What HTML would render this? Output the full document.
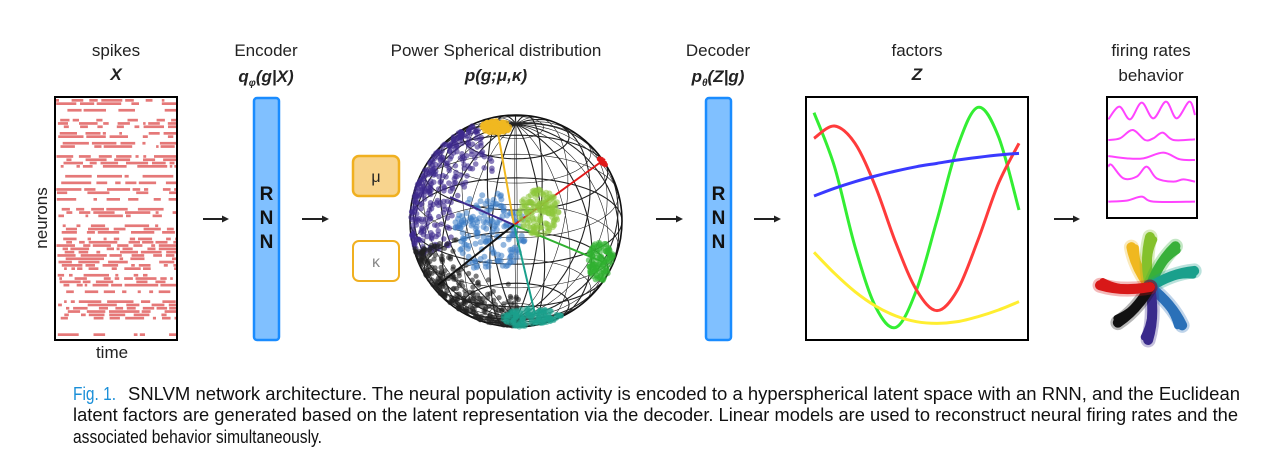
<!DOCTYPE html>
<html><head><meta charset="utf-8">
<style>
html,body{margin:0;padding:0;background:#fff;}
body{width:1268px;height:466px;overflow:hidden;font-family:"Liberation Sans",Arial,sans-serif;}
svg{position:absolute;left:0;top:0;}
</style></head><body>
<svg id="fig" width="1268" height="466" viewBox="0 0 1268 466">
 <g font-family="Liberation Sans, Arial, sans-serif" font-size="17" fill="#222" text-anchor="middle">
  <text x="116" y="56">spikes</text>
  <text x="116" y="80" font-weight="bold" font-style="italic">X</text>
  <text x="266" y="56">Encoder</text>
  <text x="266" y="82" font-weight="bold" font-style="italic">q<tspan font-size="10" dy="4">φ</tspan><tspan dy="-4">(g|X)</tspan></text>
  <text x="496" y="56">Power Spherical distribution</text>
  <text x="496" y="81" font-weight="bold" font-style="italic">p(g;μ,κ)</text>
  <text x="718" y="56">Decoder</text>
  <text x="718" y="82" font-weight="bold" font-style="italic">p<tspan font-size="10" dy="4">θ</tspan><tspan dy="-4">(Z|g)</tspan></text>
  <text x="917" y="56">factors</text>
  <text x="917" y="80" font-weight="bold" font-style="italic">Z</text>
  <text x="1151" y="56">firing rates</text>
  <text x="1151" y="81">behavior</text>
  <text x="112" y="358">time</text>
  <text transform="translate(47,218) rotate(-90)">neurons</text>
 </g>
 <g id="raster"></g>
 <rect x="55" y="97" width="122" height="243" fill="none" stroke="#000" stroke-width="2"/>
 <g id="arrows" stroke="#222" stroke-width="2" fill="#222"></g>
 <g>
  <rect x="254" y="98" width="25" height="242" rx="3" fill="#80c0ff" stroke="#1a8cff" stroke-width="2.5"/>
  <text x="266.5" y="200" font-size="19" font-weight="bold" text-anchor="middle" fill="#111">R</text>
  <text x="266.5" y="224" font-size="19" font-weight="bold" text-anchor="middle" fill="#111">N</text>
  <text x="266.5" y="248" font-size="19" font-weight="bold" text-anchor="middle" fill="#111">N</text>
 </g>
 <g>
  <rect x="706" y="98" width="25" height="242" rx="3" fill="#80c0ff" stroke="#1a8cff" stroke-width="2.5"/>
  <text x="718.5" y="200" font-size="19" font-weight="bold" text-anchor="middle" fill="#111">R</text>
  <text x="718.5" y="224" font-size="19" font-weight="bold" text-anchor="middle" fill="#111">N</text>
  <text x="718.5" y="248" font-size="19" font-weight="bold" text-anchor="middle" fill="#111">N</text>
 </g>
 <g>
  <rect x="353" y="156" width="46" height="40" rx="6" fill="#f8d48e" stroke="#f0b020" stroke-width="2.5"/>
  <text x="376" y="182" font-size="16" text-anchor="middle" fill="#222">μ</text>
 </g>
 <g>
  <rect x="353" y="241" width="46" height="40" rx="6" fill="#fff" stroke="#f0b020" stroke-width="2"/>
  <text x="376" y="267" font-size="16" text-anchor="middle" fill="#888">κ</text>
 </g>
 <g id="sphere"></g>
 <g id="factors"></g>
 <rect x="806" y="97" width="222" height="243" fill="none" stroke="#000" stroke-width="2"/>
 <g id="rates"></g>
 <rect x="1107" y="97" width="90" height="121" fill="none" stroke="#000" stroke-width="2"/>
 <g id="star"></g>
 <g font-family="Liberation Sans, Arial, sans-serif" font-size="18" fill="#111">
  <text x="73" y="400" fill="#1a8fd8" textLength="43" lengthAdjust="spacingAndGlyphs">Fig. 1.</text>
  <text x="128" y="400" textLength="1112" lengthAdjust="spacingAndGlyphs">SNLVM network architecture. The neural population activity is encoded to a hyperspherical latent space with an RNN, and the Euclidean</text>
  <text x="73" y="421" textLength="1165" lengthAdjust="spacingAndGlyphs">latent factors are generated based on the latent representation via the decoder. Linear models are used to reconstruct neural firing rates and the</text>
  <text x="73" y="443" textLength="249" lengthAdjust="spacingAndGlyphs">associated behavior simultaneously.</text>
 </g>
</svg>
<script>
const NS='http://www.w3.org/2000/svg';
// ---- factor data (sampled at 11 equally spaced time points) ----
const factorTimes=[0,1,2,3,4,5,6,7,8,9,10];
const factorGreen=[68,230,470,650,712,600,390,170,52,140,360];
const factorRed=[145,108,160,290,460,600,662,600,450,280,160];
const factorBlue=[318,295,275,258,243,230,220,210,202,195,190];
const factorYellow=[487,550,605,648,678,695,700,695,680,660,635];
// ---- firing-rate data ----
const rate1X=[205,238,270,305,340,378,410,448,465];
const rate1Y=[268,230,268,218,265,215,265,215,255];
const rate2X=[205,240,278,315,340,368,400,465];
const rate2Y=[330,325,300,330,325,308,330,328];
const rate3X=[205,260,310,370,420,465];
const rate3Y=[378,385,385,368,388,390];
const rate4X=[205,215,250,290,320,350,400,430,465];
const rate4Y=[410,405,445,440,410,445,455,448,455];
const rate5X=[205,260,305,340,465];
const rate5Y=[515,512,500,515,515];
// ---- behavior reach directions (degrees) ----
const reachAngles=[115,90,58,20,-50,-92,-132,178];
const reachLengths=[44,50,48,47,50,53,48,50];
const reachColors=['#f0b820','#84c12c','#38b03a','#1aa08c','#2a70b8','#3a2a8c','#111111','#d81818'];

function el(tag,attrs,parent){const e=document.createElementNS(NS,tag);for(const k in attrs)e.setAttribute(k,attrs[k]);parent.appendChild(e);return e;}
function smooth(pts){let d='M'+pts[0][0]+','+pts[0][1];for(let i=0;i<pts.length-1;i++){const p0=pts[i-1]||pts[i],p1=pts[i],p2=pts[i+1],p3=pts[i+2]||p2;
 d+=' C'+(p1[0]+(p2[0]-p0[0])/6)+','+(p1[1]+(p2[1]-p0[1])/6)+' '+(p2[0]-(p3[0]-p1[0])/6)+','+(p2[1]-(p3[1]-p1[1])/6)+' '+p2[0]+','+p2[1];}return d;}
let seed=11;function rnd(){seed=(seed*16807)%2147483647;return seed/2147483647;}

// arrows
const arrows=document.getElementById('arrows');
[[203,229],[302,329],[656,683],[754,781],[1054,1080]].forEach((a,i)=>{
 const g=el('g',{},arrows);
 
 
 el('line',{x1:a[0],y1:219,x2:a[1]-5,y2:219},g);
 el('polygon',{points:(a[1])+',219 '+(a[1]-7)+',215.5 '+(a[1]-7)+',222.5',stroke:'none'},g);
});

// raster
const raster=document.getElementById('raster');
for(let y=99;y<337;y+=3.3){
 let x=56+rnd()*12;
 if(rnd()<0.3) continue;
 while(x<176){const w=2.5+rnd()*rnd()*38;const ww=Math.min(w,176-x);
  const r=el('rect',{x:x.toFixed(1),y:y.toFixed(1),width:ww.toFixed(1),height:2.7,fill:'#e57878'},raster);
  
  
  x+=ww+2+rnd()*rnd()*30;}
}

// sphere
const sph=document.getElementById('sphere');
const cx=516,cy=221,R=106;
const tilt=-0.42, yaw=0.25;
function proj(lat,lon){let x=Math.cos(lat)*Math.cos(lon),y=Math.cos(lat)*Math.sin(lon),z=Math.sin(lat);
 let x1=x*Math.cos(yaw)-y*Math.sin(yaw),y1=x*Math.sin(yaw)+y*Math.cos(yaw);
 let z2=z*Math.cos(tilt)-x1*Math.sin(tilt),x2=z*Math.sin(tilt)+x1*Math.cos(tilt);
 return [cx+y1*R,cy-z2*R,x2];}
function gridLine(fn,n){let d='';for(let i=0;i<=n;i++){const p=fn(i/n);d+=(i?'L':'M')+p[0].toFixed(1)+','+p[1].toFixed(1);}return d;}
for(let lon=0;lon<180;lon+=15){const L=lon*Math.PI/180;
 el('path',{d:gridLine(t=>proj(-Math.PI/2+t*2*Math.PI,L),80),fill:'none',stroke:'#222','stroke-width':lon%30?0.6:1.1},sph);}
for(let lat=-75;lat<=75;lat+=15){const L=lat*Math.PI/180;
 el('path',{d:gridLine(t=>proj(L,t*2*Math.PI),80),fill:'none',stroke:'#222','stroke-width':lat%30?0.6:1.1},sph);}
el('circle',{cx:cx,cy:cy,r:R,fill:'none',stroke:'#111','stroke-width':1.6},sph);
function cluster(x0,y0,sx,sy,n,col,r,op){for(let i=0;i<n;i++){const a=rnd()*6.283,rr=Math.sqrt(rnd());
 const x=x0+Math.cos(a)*rr*sx,y=y0+Math.sin(a)*rr*sy;
 if((x-cx)**2+(y-cy)**2>R*R)continue;
 el('circle',{cx:x.toFixed(1),cy:y.toFixed(1),r:r,fill:col,'fill-opacity':op},sph);}}
function edge(a0,a1,dr,n,col,r){for(let i=0;i<n;i++){const a=(a0+(a1-a0)*rnd())*Math.PI/180,rr=R-1-rnd()*rnd()*dr;
 el('circle',{cx:(cx+Math.cos(a)*rr).toFixed(1),cy:(cy-Math.sin(a)*rr).toFixed(1),r:r,fill:col,'fill-opacity':0.6},sph);}}
edge(112,200,55,320,'#3e2a8e',2.8);
edge(195,272,45,300,'#222',2.6);
cluster(490,232,36,40,170,'#3a7cc4',3,0.55);
const cLines=[[497,127,'#f0b820'],[605,159,'#e01818'],[603,262,'#30b030'],[535,314,'#1aa08c'],[450,197,'#3e2a8e'],[438,285,'#111']];
cLines.forEach(c=>el('line',{x1:cx-2,y1:cy+4,x2:c[0],y2:c[1],stroke:c[2],'stroke-width':2},sph));
cluster(539,212,20,23,150,'#8cc63a',3,0.55);
cluster(601,262,13,20,110,'#30b030',3,0.6);
cluster(533,318,30,10,150,'#1aa08c',3,0.6);
cluster(496,127,14,6,80,'#f0b820',3,0.8);
cluster(605,160,6,5,40,'#e01818',2.5,0.9);

// factors
const fg=document.getElementById('factors');
const fx=t=>814+t*20.5, fy=v=>90+v/3;
[[factorGreen,'#33ee33','factor-green'],[factorRed,'#ff3b3b','factor-red'],[factorBlue,'#3a3aff','factor-blue'],[factorYellow,'#ffee30','factor-yellow']].forEach(s=>{
 const p=el('path',{d:smooth(factorTimes.map((t,i)=>[fx(t),fy(s[0][i])])),fill:'none',stroke:s[1],'stroke-width':3},fg);
 
 
});

// firing rates
const rg=document.getElementById('rates');
const rx=v=>1040+v/3, ry=v=>30+v/3;
[[rate1X,rate1Y],[rate2X,rate2Y],[rate3X,rate3Y],[rate4X,rate4Y],[rate5X,rate5Y]].forEach((s,k)=>{
 const p=el('path',{d:smooth(s[0].map((x,i)=>[rx(x),ry(s[1][i])])),fill:'none',stroke:'#ff44ff','stroke-width':2},rg);
 
 
});

// behavior star
const sg=document.getElementById('star');
const scx=1150,scy=287;
reachAngles.forEach((a,i)=>{
 const A=a*Math.PI/180,L=reachLengths[i];
 const ex=scx+Math.cos(A)*L,ey=scy-Math.sin(A)*L;
 const mx=scx+Math.cos(A+0.22)*L*0.55,my=scy-Math.sin(A+0.22)*L*0.55;
 const g=el('g',{},sg);
 
 
 el('path',{d:'M'+scx+','+scy+' Q'+mx+','+my+' '+ex+','+ey,fill:'none',stroke:reachColors[i],'stroke-width':15,'stroke-opacity':0.3,'stroke-linecap':'round'},g);
 el('path',{d:'M'+scx+','+scy+' Q'+mx+','+my+' '+ex+','+ey,fill:'none',stroke:reachColors[i],'stroke-width':10,'stroke-linecap':'round'},g);
 const ex2=scx+Math.cos(A-0.08)*L*0.95,ey2=scy-Math.sin(A-0.08)*L*0.95;
 el('path',{d:'M'+scx+','+scy+' Q'+mx+','+my+' '+ex2+','+ey2,fill:'none',stroke:reachColors[i],'stroke-width':7,'stroke-linecap':'round'},g);
});
</script>
</body></html>
